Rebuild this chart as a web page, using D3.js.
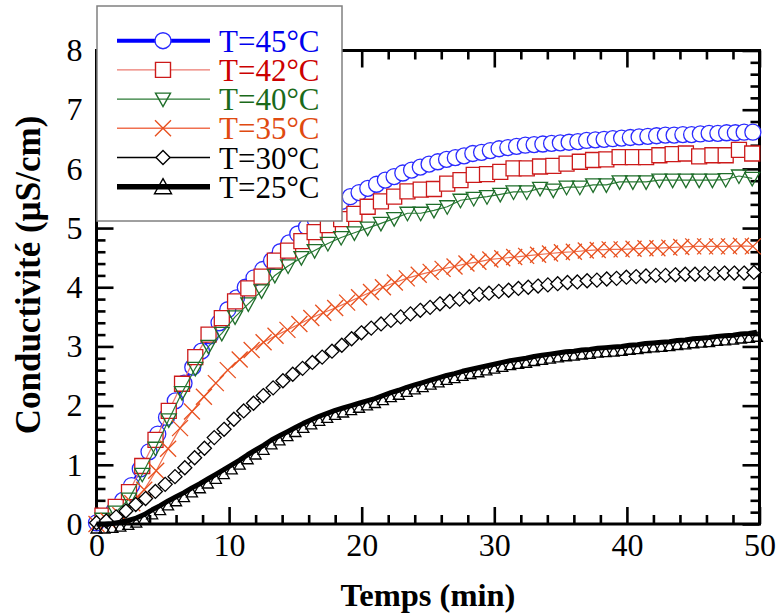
<!DOCTYPE html>
<html><head><meta charset="utf-8">
<script src="https://cdn.jsdelivr.net/npm/d3@7"></script>
<style>
body{margin:0;background:#fff}
svg text{font-family:"Liberation Serif","Times New Roman",serif !important;}
</style>
</head><body>
<svg id="c" width="777" height="613" font-family="Liberation Serif"></svg>
<script>
// ---------- data ----------
const xTicks = [0, 10, 20, 30, 40, 50];
const yTicks = [0, 1, 2, 3, 4, 5, 6, 7, 8];
const xLabel = "Temps (min)";
const yLabel = "Conductivité (µS/cm)";
const seriesNames = ["T=45°C", "T=42°C", "T=40°C", "T=35°C", "T=30°C", "T=25°C"];
// sampling (start, step in min) for each series
const start45 = 0,    step45 = 0.66;
const start42 = 0.45, step42 = 1;
const start40 = 0.45, step40 = 1;
const start35 = 0,    step35 = 0.9;
const start30 = 0,    step30 = 0.74;
const start25 = 0,    step25 = 0.6;
const v45 = [0.02,0.1,0.22,0.4,0.65,0.93,1.22,1.52,1.8,2.08,2.38,2.65,2.92,3.18,3.4,3.62,3.82,4.0,4.16,4.3,4.45,4.6,4.75,4.9,5.02,5.14,5.25,5.35,5.45,5.53,5.6,5.67,5.74,5.81,5.87,5.93,5.98,6.03,6.08,6.12,6.16,6.19,6.22,6.26,6.28,6.31,6.34,6.36,6.38,6.4,6.41,6.42,6.43,6.44,6.45,6.46,6.48,6.49,6.5,6.51,6.52,6.53,6.54,6.55,6.56,6.57,6.57,6.58,6.58,6.59,6.6,6.6,6.61,6.61,6.62,6.62];
const v42 = [0.14,0.29,0.54,0.98,1.42,1.91,2.37,2.82,3.2,3.48,3.76,3.98,4.18,4.45,4.62,4.78,4.93,5.05,5.15,5.24,5.36,5.45,5.53,5.62,5.65,5.66,5.75,5.81,5.9,5.91,5.95,6.01,6.01,6.04,6.05,6.09,6.12,6.15,6.16,6.2,6.2,6.2,6.23,6.25,6.26,6.21,6.23,6.23,6.32,6.26];
const v40 = [0.08,0.2,0.42,0.84,1.28,1.76,2.22,2.63,3.0,3.22,3.5,3.72,3.94,4.2,4.36,4.5,4.62,4.74,4.84,4.92,5.0,5.08,5.16,5.25,5.25,5.3,5.36,5.47,5.5,5.53,5.57,5.61,5.61,5.67,5.64,5.69,5.69,5.73,5.73,5.78,5.78,5.78,5.81,5.81,5.81,5.81,5.81,5.82,5.88,5.84];
const v35 = [0,0.05,0.15,0.35,0.58,0.9,1.27,1.62,1.9,2.15,2.38,2.6,2.78,2.94,3.07,3.18,3.28,3.38,3.48,3.57,3.65,3.74,3.83,3.92,4.0,4.08,4.15,4.21,4.26,4.31,4.35,4.4,4.43,4.47,4.49,4.51,4.53,4.55,4.57,4.59,4.6,4.62,4.63,4.64,4.64,4.65,4.66,4.66,4.67,4.68,4.69,4.69,4.69,4.69,4.7,4.69];
const v30 = [0.02,0.05,0.12,0.22,0.33,0.43,0.55,0.67,0.8,0.95,1.12,1.28,1.46,1.6,1.77,1.91,2.04,2.17,2.3,2.42,2.53,2.63,2.73,2.82,2.92,3.02,3.13,3.23,3.31,3.38,3.44,3.5,3.55,3.61,3.66,3.72,3.76,3.8,3.84,3.88,3.9,3.93,3.95,3.98,4.0,4.02,4.04,4.06,4.08,4.09,4.11,4.12,4.14,4.15,4.17,4.18,4.19,4.2,4.2,4.21,4.22,4.22,4.23,4.23,4.24,4.24,4.24,4.25];
const v25 = [0,0,0.01,0.03,0.06,0.1,0.16,0.24,0.31,0.39,0.46,0.53,0.61,0.68,0.76,0.84,0.92,1.0,1.08,1.17,1.25,1.33,1.42,1.49,1.56,1.63,1.7,1.76,1.82,1.87,1.92,1.96,2.0,2.04,2.08,2.12,2.17,2.22,2.26,2.31,2.35,2.39,2.43,2.47,2.51,2.54,2.58,2.61,2.64,2.67,2.7,2.73,2.76,2.78,2.8,2.83,2.85,2.87,2.89,2.91,2.92,2.94,2.95,2.97,2.98,2.99,3.0,3.02,3.03,3.05,3.06,3.07,3.08,3.1,3.11,3.13,3.14,3.15,3.17,3.18,3.19,3.21,3.22,3.24];

// ---------- setup ----------
const svg = d3.select("#c");
const x = d3.scaleLinear().domain([0, 50]).range([96.5, 759.5]);
const y = d3.scaleLinear().domain([0, 8]).range([524, 50.5]);
const W = x.range()[1] - x.range()[0], H = y.range()[0] - y.range()[1];

function pts(start, step, vals) { return vals.map((v, i) => [start + i * step, v]); }

const sym = {
  circle: d3.symbol().type(d3.symbolCircle).size(Math.PI * 8 * 8)(),
  square: d3.symbol().type(d3.symbolSquare).size(15 * 15)(),
  tdown: "M-7.5,-6L7.5,-6L0,7.5Z",
  cross: "M-8,-8L8,8M-8,8L8,-8",
  diamond: "M0,-7L7,0L0,7L-7,0Z",
  tup: "M0,-4.5L5.5,5L-5.5,5Z",
  tupL: "M0,-8L8.5,7L-8.5,7Z"
};

const series = [
  {name: seriesNames[0], data: pts(start45, step45, v45), line: "#0000ff", lw: 3, mk: sym.circle, mkStroke: "#2a2aff", fill: "#fff", text: "#0000ee", lgLw: 4, mkDy: 0},
  {name: seriesNames[1], data: pts(start42, step42, v42), line: "#ec7a70", lw: 1.3, mk: sym.square, mkStroke: "#cc1a1a", fill: "#fff", text: "#cc0000", lgLw: 1.3, mkDy: 0},
  {name: seriesNames[2], data: pts(start40, step40, v40), line: "#2a7a35", lw: 1.2, mk: sym.tdown, mkStroke: "#1f6e2a", fill: "none", text: "#1a6a1a", lgLw: 1.3, mkDy: 0},
  {name: seriesNames[3], data: pts(start35, step35, v35), line: "#f07050", lw: 1.2, mk: sym.cross, mkStroke: "#e8501e", fill: "none", text: "#e04a10", lgLw: 1.6, mkDy: 0},
  {name: seriesNames[4], data: pts(start30, step30, v30), line: "#000", lw: 1.1, mk: sym.diamond, mkStroke: "#000", fill: "#fff", text: "#000", lgLw: 1.3, mkDy: 0},
  {name: seriesNames[5], data: pts(start25, step25, v25), line: "#000", lw: 5, mk: sym.tup, mkStroke: "#000", fill: "none", text: "#000", lgLw: 5.5, mkDy: 4, lgMk: sym.tupL}
];

// ---------- axes (ticks inside on all four sides) ----------
const minorX = d3.range(0, 50.001, 2).filter(v => v % 10 !== 0);
const minorY = d3.range(0, 8.001, 0.2).map(v => +v.toFixed(1)).filter(v => Math.abs(v - Math.round(v)) > 1e-6);
const MAJ = 17, MIN = 9;

function styleAxis(g, withText) {
  g.attr("font-family", null);
  g.select(".domain").remove();
  g.selectAll(".tick line").attr("stroke", "#000").attr("stroke-width", 2.6);
  if (!withText) g.selectAll(".tick text").remove();
  else g.selectAll(".tick text").attr("fill", "#000").style("font-size", "32px");
}
const gAx = svg.append("g");
gAx.append("g").attr("transform", `translate(0,${y(0)})`)
  .call(d3.axisBottom(x).tickValues(xTicks).tickSize(-MAJ).tickPadding(9).tickFormat(d3.format("d")))
  .call(g => styleAxis(g, true));
gAx.append("g").attr("transform", `translate(0,${y(0)})`)
  .call(d3.axisBottom(x).tickValues(minorX).tickSize(-MIN)).call(g => styleAxis(g, false));
gAx.append("g").attr("transform", `translate(0,${y(8)})`)
  .call(d3.axisTop(x).tickValues(xTicks).tickSize(-MAJ)).call(g => styleAxis(g, false));
gAx.append("g").attr("transform", `translate(0,${y(8)})`)
  .call(d3.axisTop(x).tickValues(minorX).tickSize(-MIN)).call(g => styleAxis(g, false));
gAx.append("g").attr("transform", `translate(${x(0)},0)`)
  .call(d3.axisLeft(y).tickValues(yTicks).tickSize(-MAJ).tickPadding(14).tickFormat(d3.format("d")))
  .call(g => styleAxis(g, true));
gAx.append("g").attr("transform", `translate(${x(0)},0)`)
  .call(d3.axisLeft(y).tickValues(minorY).tickSize(-MIN)).call(g => styleAxis(g, false));
gAx.append("g").attr("transform", `translate(${x(50)},0)`)
  .call(d3.axisRight(y).tickValues(yTicks).tickSize(-MAJ)).call(g => styleAxis(g, false));
gAx.append("g").attr("transform", `translate(${x(50)},0)`)
  .call(d3.axisRight(y).tickValues(minorY).tickSize(-MIN)).call(g => styleAxis(g, false));
gAx.append("rect").attr("x", x(0)).attr("y", y(8)).attr("width", W).attr("height", H)
  .attr("fill", "none").attr("stroke", "#000").attr("stroke-width", 3);

// ---------- series ----------
const line = d3.line().x(d => x(d[0])).y(d => y(d[1]));
series.forEach(s => {
  const g = svg.append("g");
  g.append("path").attr("d", line(s.data)).attr("fill", "none").attr("stroke", s.line)
    .attr("stroke-width", s.lw).attr("stroke-linejoin", "round");
  g.selectAll("path.m").data(s.data).join("path").attr("class", "m")
    .attr("d", s.mk).attr("transform", d => `translate(${x(d[0])},${y(d[1]) + s.mkDy})`)
    .attr("fill", s.fill).attr("stroke", s.mkStroke).attr("stroke-width", 1.3);
});

// ---------- legend ----------
const lg = svg.append("g");
lg.append("rect").attr("x", 97).attr("y", 6).attr("width", 245).attr("height", 215)
  .attr("fill", "#fff").attr("stroke", "#808080").attr("stroke-width", 1.5);
series.forEach((s, i) => {
  const cy = 40.7 + i * 29.2;
  lg.append("line").attr("x1", 117).attr("x2", 210).attr("y1", cy).attr("y2", cy)
    .attr("stroke", s.line).attr("stroke-width", s.lgLw);
  lg.append("path").attr("d", s.lgMk || s.mk).attr("transform", `translate(163,${cy})`)
    .attr("fill", s.fill === "none" ? "none" : "#fff").attr("stroke", s.mkStroke).attr("stroke-width", 1.4);
  lg.append("text").attr("x", 219).attr("y", cy + 11).text(s.name)
    .attr("fill", s.text).style("font-size", "31px");
});

// ---------- titles ----------
svg.append("text").attr("x", 428).attr("y", 606).attr("text-anchor", "middle")
  .style("font-size", "32.5px").style("font-weight", "bold").text(xLabel);
svg.append("text").attr("transform", "translate(40,275) rotate(-90)").attr("text-anchor", "middle")
  .style("font-size", "35px").style("font-weight", "bold").text(yLabel);
</script>
</body></html>
